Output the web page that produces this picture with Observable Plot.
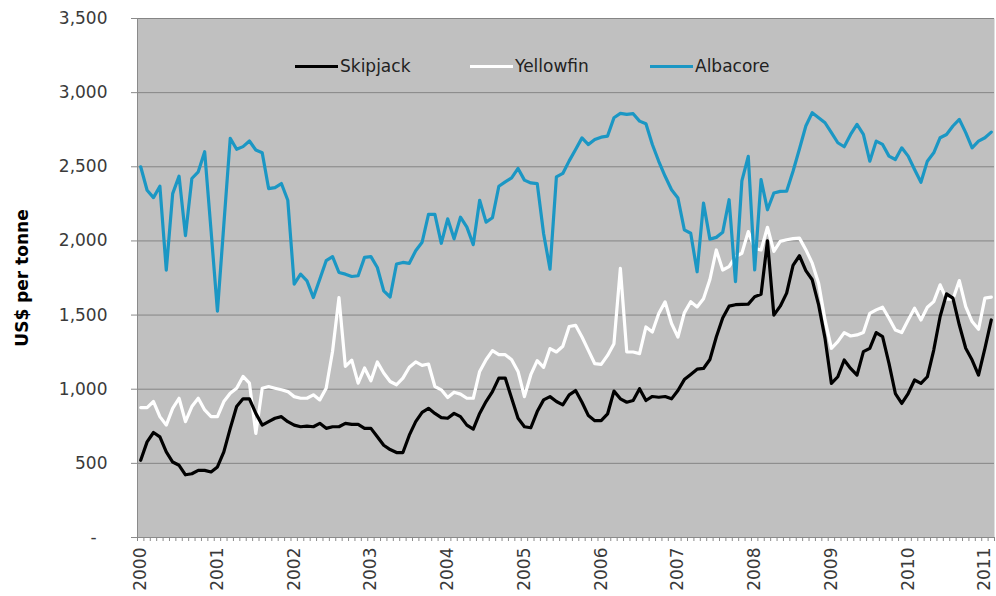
<!DOCTYPE html>
<html>
<head>
<meta charset="utf-8">
<script src="https://cdn.jsdelivr.net/npm/d3@7"></script>
<script src="https://cdn.jsdelivr.net/npm/@observablehq/plot@0.6"></script>
<style>
  html, body { margin: 0; padding: 0; background: #ffffff; }
  #wrap { position: relative; width: 996px; height: 596px; font-family: "DejaVu Sans", sans-serif; }
  #wrap svg g[aria-label="y-axis label"] text { font-weight: bold; fill: #000; }
  .leg { position: absolute; top: 56px; height: 20px; display: flex; align-items: center; font-size: 17px; color: #222222; white-space: nowrap; }
  .leg span.sw { display: inline-block; width: 43px; height: 3px; margin-right: 2px; }
</style>
</head>
<body>
<div id="wrap"></div>
<script>
// Monthly prices, Jan 2000 – Feb 2011 (US$ per tonne)
const years = ["2000","2001","2002","2003","2004","2005","2006","2007","2008","2009","2010","2011"];
const seriesNames = ["Skipjack", "Yellowfin", "Albacore"];
const seriesColors = ["#000000", "#ffffff", "#1b97c4"];

const skipjack = [
  521, 645, 708, 679, 577, 509, 487, 423, 430, 453, 453, 442,
  476, 577, 736, 883, 935, 935, 837, 758, 781, 804, 815, 781,
  758, 747, 751, 747, 770, 736, 747, 747, 770, 763, 763, 736,
  736, 679, 622, 593, 573, 573, 690, 781, 844, 871, 837, 808,
  804, 837, 815, 758, 731, 837, 917, 984, 1075, 1075, 939, 804,
  747, 740, 849, 928, 950, 917, 894, 962, 991, 912, 822, 788,
  788, 833, 987, 935, 912, 924, 1003, 924, 951, 946, 951, 935,
  991, 1065, 1100, 1135, 1140, 1200, 1352, 1480, 1560, 1570, 1572, 1574,
  1624, 1640, 2000, 1500, 1560, 1648, 1835, 1900, 1800, 1738, 1569, 1343,
  1039, 1084, 1197, 1140, 1095, 1253, 1276, 1382, 1355, 1174, 971, 904,
  971, 1062, 1039, 1084, 1264, 1490, 1643, 1614, 1433, 1276, 1197, 1095,
  1276, 1467
];
const yellowfin = [
  876, 876, 917, 815, 758, 871, 939, 781, 883, 939, 860, 815,
  815, 917, 973, 1007, 1086, 1041, 702, 1007, 1018, 1007, 996, 984,
  950, 939, 939, 962, 928, 1007, 1256, 1618, 1154, 1196, 1041, 1143,
  1057, 1184, 1109, 1052, 1030, 1075, 1148, 1184, 1161, 1170, 1018, 996,
  944, 980, 967, 939, 939, 1120, 1199, 1260, 1233, 1233, 1199, 1120,
  950, 1098, 1193, 1148, 1274, 1251, 1290, 1423, 1431, 1352, 1262, 1172,
  1167, 1228, 1307, 1815, 1251, 1251, 1240, 1420, 1386, 1510, 1589, 1443,
  1352, 1515, 1590, 1555, 1610, 1740, 1939, 1804, 1827, 1894, 1917, 2063,
  1950, 1939, 2092, 1930, 1997, 2008, 2015, 2019, 1941, 1850, 1715, 1467,
  1276, 1321, 1382, 1359, 1366, 1382, 1512, 1535, 1553, 1479, 1400, 1382,
  1467, 1546, 1467, 1553, 1591, 1704, 1607, 1607, 1733, 1557, 1456, 1404,
  1614, 1621
];
const albacore = [
  2500, 2342, 2292, 2369, 1803, 2319, 2437, 2036, 2421, 2466, 2602, 2070,
  1527, 2110, 2692, 2618, 2636, 2674, 2613, 2595, 2353, 2360, 2387, 2274,
  1708, 1776, 1731, 1618, 1742, 1867, 1894, 1787, 1776, 1760, 1765, 1889,
  1894, 1821, 1663, 1622, 1844, 1855, 1849, 1934, 1991, 2179, 2179, 1984,
  2149, 2014, 2160, 2093, 1975, 2274, 2127, 2156, 2369, 2398, 2425, 2489,
  2410, 2391, 2387, 2048, 1810, 2432, 2455, 2540, 2616, 2695, 2650, 2684,
  2700, 2707, 2831, 2860, 2853, 2858, 2808, 2790, 2650, 2537, 2436, 2345,
  2289, 2075, 2052, 1792, 2255, 2012, 2024, 2058, 2278, 1725, 2405, 2570,
  1804, 2413, 2210, 2323, 2334, 2335, 2470, 2620, 2775, 2865, 2831, 2797,
  2730, 2662, 2635, 2718, 2786, 2718, 2538, 2673, 2651, 2572, 2549, 2628,
  2572, 2482, 2396, 2538, 2594, 2696, 2718, 2775, 2820, 2730, 2628, 2673,
  2696, 2734
];
const yTicks = [0, 500, 1000, 1500, 2000, 2500, 3000, 3500];

const values = [skipjack, yellowfin, albacore];
const nMonths = skipjack.length;
const rowsFor = (k) => values[k].map((v, i) => ({series: seriesNames[k], i: i + 0.5, v}));
const monthEdges = d3.range(0, nMonths + 1);
const yearPos = years.map((y, j) => j * 12 + 0.5);

const chart = Plot.plot({
  width: 996,
  height: 596,
  marginLeft: 137,
  marginRight: 2,
  marginTop: 18,
  marginBottom: 59,
  style: {fontFamily: "DejaVu Sans, sans-serif", fontSize: "17px", color: "#3a3a3a", background: "#ffffff", overflow: "visible"},
  x: {domain: [0, nMonths], label: null},
  y: {domain: [0, 3500], label: null},
  marks: [
    Plot.frame({fill: "#c0c0c0", stroke: null}),
    Plot.gridY(yTicks, {stroke: "#858585", strokeOpacity: 1, strokeWidth: 1}),
    Plot.line(rowsFor(1), {x: "i", y: "v", stroke: seriesColors[1], strokeWidth: 3.2, strokeLinejoin: "round"}),
    Plot.line(rowsFor(0), {x: "i", y: "v", stroke: seriesColors[0], strokeWidth: 3.2, strokeLinejoin: "round"}),
    Plot.line(rowsFor(2), {x: "i", y: "v", stroke: seriesColors[2], strokeWidth: 3.2, strokeLinejoin: "round"}),
    Plot.frame({anchor: "left", stroke: "#8a8a8a"}),
    Plot.frame({anchor: "bottom", stroke: "#8a8a8a"}),
    Plot.axisY(yTicks, {
      tickSize: 6, tickPadding: 24, stroke: "#8a8a8a",
      tickFormat: d => d === 0 ? "-\u00a0\u00a0" : d3.format(",")(d),
      fontSize: 17,
      label: "US$ per tonne", labelAnchor: "center", labelArrow: "none", labelOffset: 122
    }),
    Plot.axisX(monthEdges, {tickSize: 4, tickFormat: () => "", stroke: "#8a8a8a", label: null}),
    Plot.axisX(yearPos, {
      tickSize: 0, tickPadding: 10, tickRotate: -90, fontSize: 17,
      tickFormat: d => years[Math.round((d - 0.5) / 12)], label: null
    })
  ]
});

const wrap = document.getElementById("wrap");
wrap.appendChild(chart);

// legend
const legendLeft = [295, 470, 650];
seriesNames.forEach((name, k) => {
  const item = document.createElement("div");
  item.className = "leg";
  item.style.left = legendLeft[k] + "px";
  const sw = document.createElement("span");
  sw.className = "sw";
  sw.style.background = seriesColors[k];
  item.appendChild(sw);
  item.appendChild(document.createTextNode(name));
  wrap.appendChild(item);
});
</script>
</body>
</html>
